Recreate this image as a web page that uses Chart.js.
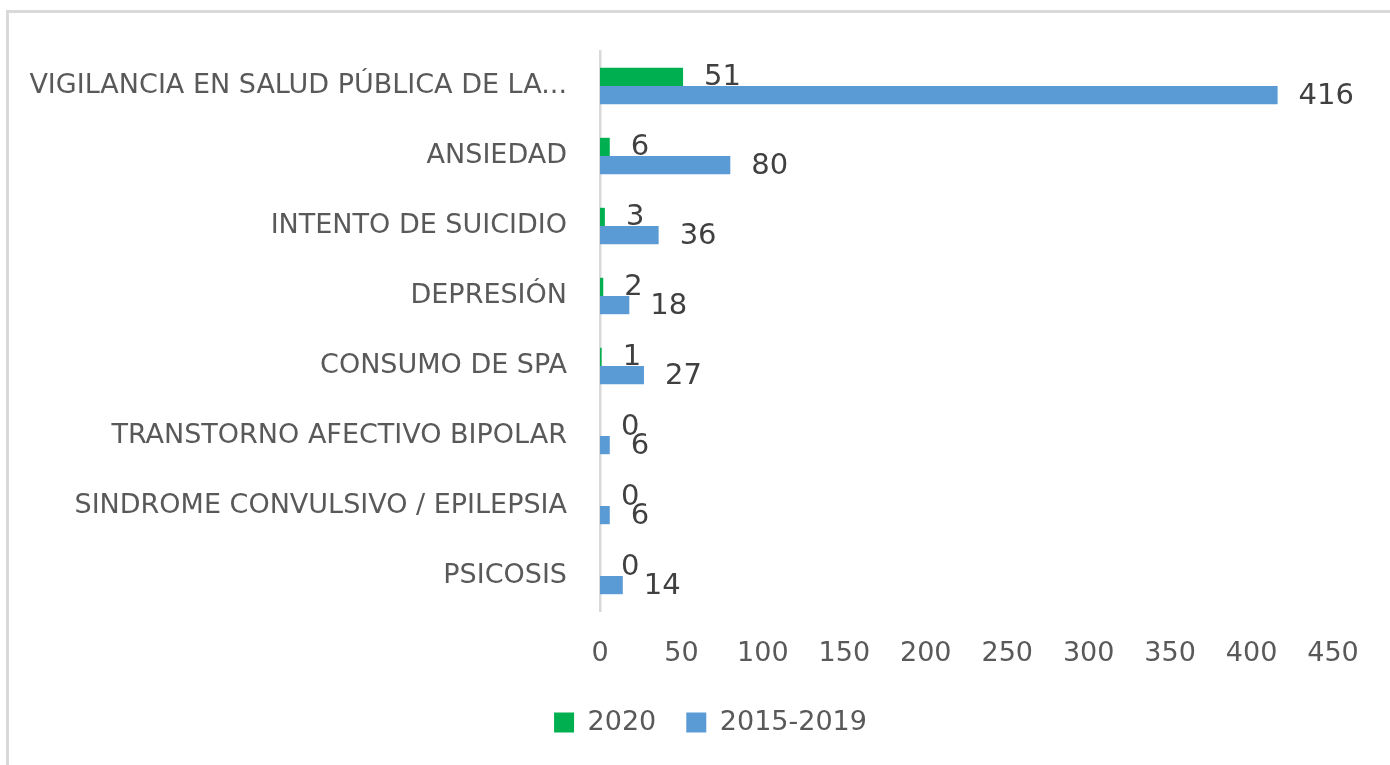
<!DOCTYPE html>
<html>
<head>
<meta charset="utf-8">
<script src="https://cdn.jsdelivr.net/npm/chart.js@4/dist/chart.umd.min.js"></script>
<style>
  html, body { margin:0; padding:0; background:#fff; overflow:hidden; }
  #wrap { position:absolute; left:0; top:0; width:1390px; height:765px; }
  #frame { position:absolute; left:6px; top:10px; width:1400px; height:800px;
           border-top:3px solid #d9d9d9; border-left:3px solid #d9d9d9; box-sizing:border-box; }
  canvas { position:absolute; left:0; top:0; }
</style>
</head>
<body>
<div id="wrap">
  <div id="frame"></div>
  <canvas id="c" width="1390" height="765"></canvas>
</div>
<script>
const categories = ['VIGILANCIA EN SALUD PÚBLICA DE LA...', 'ANSIEDAD', 'INTENTO DE SUICIDIO', 'DEPRESIÓN', 'CONSUMO DE SPA', 'TRANSTORNO AFECTIVO BIPOLAR', 'SINDROME CONVULSIVO / EPILEPSIA', 'PSICOSIS'];
const seriesNames = ['2020', '2015-2019'];
const values2020 = [51, 6, 3, 2, 1, 0, 0, 0];
const values2015_2019 = [416, 80, 36, 18, 27, 6, 6, 14];
const xTicks = [0, 50, 100, 150, 200, 250, 300, 350, 400, 450];

const FONT = '"DejaVu Sans"';

const labelPlugin = {
  id: 'valueLabels',
  afterDatasetsDraw(chart) {
    const ctx = chart.ctx;
    ctx.save();
    ctx.font = '29px ' + FONT;
    ctx.fillStyle = '#404040';
    ctx.textAlign = 'left';
    ctx.textBaseline = 'middle';
    chart.data.datasets.forEach((ds, di) => {
      const meta = chart.getDatasetMeta(di);
      meta.data.forEach((el, i) => {
        ctx.fillText(String(ds.data[i]), el.x + 21, el.y + 1);
      });
    });
    ctx.restore();
  }
};

// shift the legend so it is centred under the whole frame, as in the reference
const legendShift = {
  id: 'legendShift',
  afterLayout(chart) {
    const lg = chart.legend;
    if (lg) {
      lg.left = 88;
      lg.width = lg.right - lg.left;
    }
  }
};

new Chart(document.getElementById('c'), {
  type: 'bar',
  data: {
    labels: categories,
    datasets: [
      { label: seriesNames[0], data: values2020, backgroundColor: '#00b050', borderWidth: 0 },
      { label: seriesNames[1], data: values2015_2019, backgroundColor: '#5b9bd5', borderWidth: 0 }
    ]
  },
  options: {
    indexAxis: 'y',
    responsive: false,
    animation: false,
    devicePixelRatio: 1,
    layout: { padding: { top: 51, left: 0, right: 57, bottom: 19 } },
    datasets: { bar: { categoryPercentage: 0.52, barPercentage: 1 } },
    scales: {
      x: {
        min: 0, max: 450,
        afterBuildTicks(scale) { scale.ticks = xTicks.map(v => ({ value: v })); },
        afterFit(scale) { scale.height = 68; },
        grid: { display: false, drawTicks: false },
        border: { display: false },
        ticks: { color: '#595959', font: { family: 'DejaVu Sans', size: 27 }, padding: 27, maxRotation: 0 }
      },
      y: {
        afterFit(scale) { scale.width = 600; },
        grid: { display: false, drawTicks: false },
        border: { display: true, color: '#d9d9d9', width: 2.5 },
        ticks: { color: '#595959', font: { family: 'DejaVu Sans', size: 27 }, padding: 33, autoSkip: false }
      }
    },
    plugins: {
      legend: {
        position: 'bottom',
        labels: { color: '#595959', font: { family: 'DejaVu Sans', size: 27 }, boxWidth: 20, boxHeight: 20, padding: 30 }
      },
      tooltip: { enabled: false }
    }
  },
  plugins: [labelPlugin, legendShift]
});
</script>
</body>
</html>
